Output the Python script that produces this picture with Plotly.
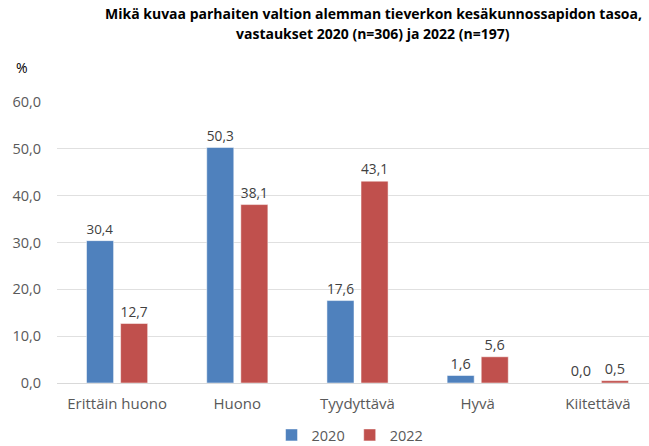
import plotly.graph_objects as go

categories = ["Erittäin huono", "Huono", "Tyydyttävä", "Hyvä", "Kiitettävä"]
values_2020 = [30.4, 50.3, 17.6, 1.6, 0.0]
values_2022 = [12.7, 38.1, 43.1, 5.6, 0.5]
series_names = ["2020", "2022"]
tick_vals = [0, 10, 20, 30, 40, 50, 60]
tick_text = ["0,0", "10,0", "20,0", "30,0", "40,0", "50,0", "60,0"]

def fmt(v):
    return f"{v:.1f}".replace(".", ",")

FONT = "'Open Sans', sans-serif"
colors = ["#4F81BD", "#C0504D"]

W, H = 649, 446
ML, MR, MT, MB = 57, 0, 102, 63

fig = go.Figure()
for name, vals, col in zip(series_names, [values_2020, values_2022], colors):
    fig.add_trace(go.Bar(
        x=categories, y=vals, name=name,
        marker=dict(color=col, line=dict(color="rgba(255,255,255,0.5)", width=1)),
        text=[fmt(v) for v in vals], textposition="outside",
        textfont=dict(size=14.5, color="#404040", family=FONT),
        cliponaxis=False,
    ))

plot_w = W - ML - MR
plot_h = H - MT - MB

def px(x):
    return (x - ML) / plot_w

def py(y):
    return (H - MB - y) / plot_h

fig.update_layout(
    width=W, height=H,
    margin=dict(l=ML, r=MR, t=MT, b=MB, autoexpand=False),
    paper_bgcolor="white", plot_bgcolor="white",
    barmode="group", bargap=0.433, bargroupgap=0.206,
    font=dict(family=FONT, color="#595959", size=14),
    xaxis=dict(
        type="category", range=[-0.5, 4.425], automargin=False,
        showgrid=False, showline=True, linecolor="#D9D9D9", linewidth=1,
        ticks="outside", ticklen=7, tickcolor="rgba(0,0,0,0)",
        tickfont=dict(size=15, color="#595959"),
    ),
    yaxis=dict(
        range=[0, 60], tickvals=tick_vals, ticktext=tick_text, automargin=False,
        showgrid=True, gridcolor="#E0E0E0", gridwidth=1,
        zeroline=False, showline=False, ticks="outside", ticklen=12,
        tickcolor="rgba(0,0,0,0)",
        tickfont=dict(size=14.5, color="#595959"),
    ),
    legend=dict(
        orientation="h", x=0.495, xanchor="center",
        yref="container", y=1 - 435 / H, yanchor="middle",
        font=dict(size=14.5, color="#595959"), itemwidth=30,
        traceorder="normal",
    ),
    annotations=[
        dict(
            text="<b>Mikä kuvaa parhaiten valtion alemman tieverkon kesäkunnossapidon tasoa,</b>",
            x=px(373), y=py(13), xref="paper", yref="paper", showarrow=False,
            xanchor="center", yanchor="middle",
            font=dict(size=14, color="#000000", family=FONT),
        ),
        dict(
            text="<b>vastaukset 2020 (n=306) ja 2022 (n=197)</b>",
            x=px(373), y=py(33), xref="paper", yref="paper", showarrow=False,
            xanchor="center", yanchor="middle",
            font=dict(size=14, color="#000000", family=FONT),
        ),
        dict(
            text="%", x=px(22), y=py(68), xref="paper", yref="paper", showarrow=False,
            xanchor="center", yanchor="middle",
            font=dict(size=14, color="#000000", family=FONT),
        ),
    ],
)

fig.write_html("out.html", config={"displayModeBar": False},
               post_script="document.body.style.margin='0';")
